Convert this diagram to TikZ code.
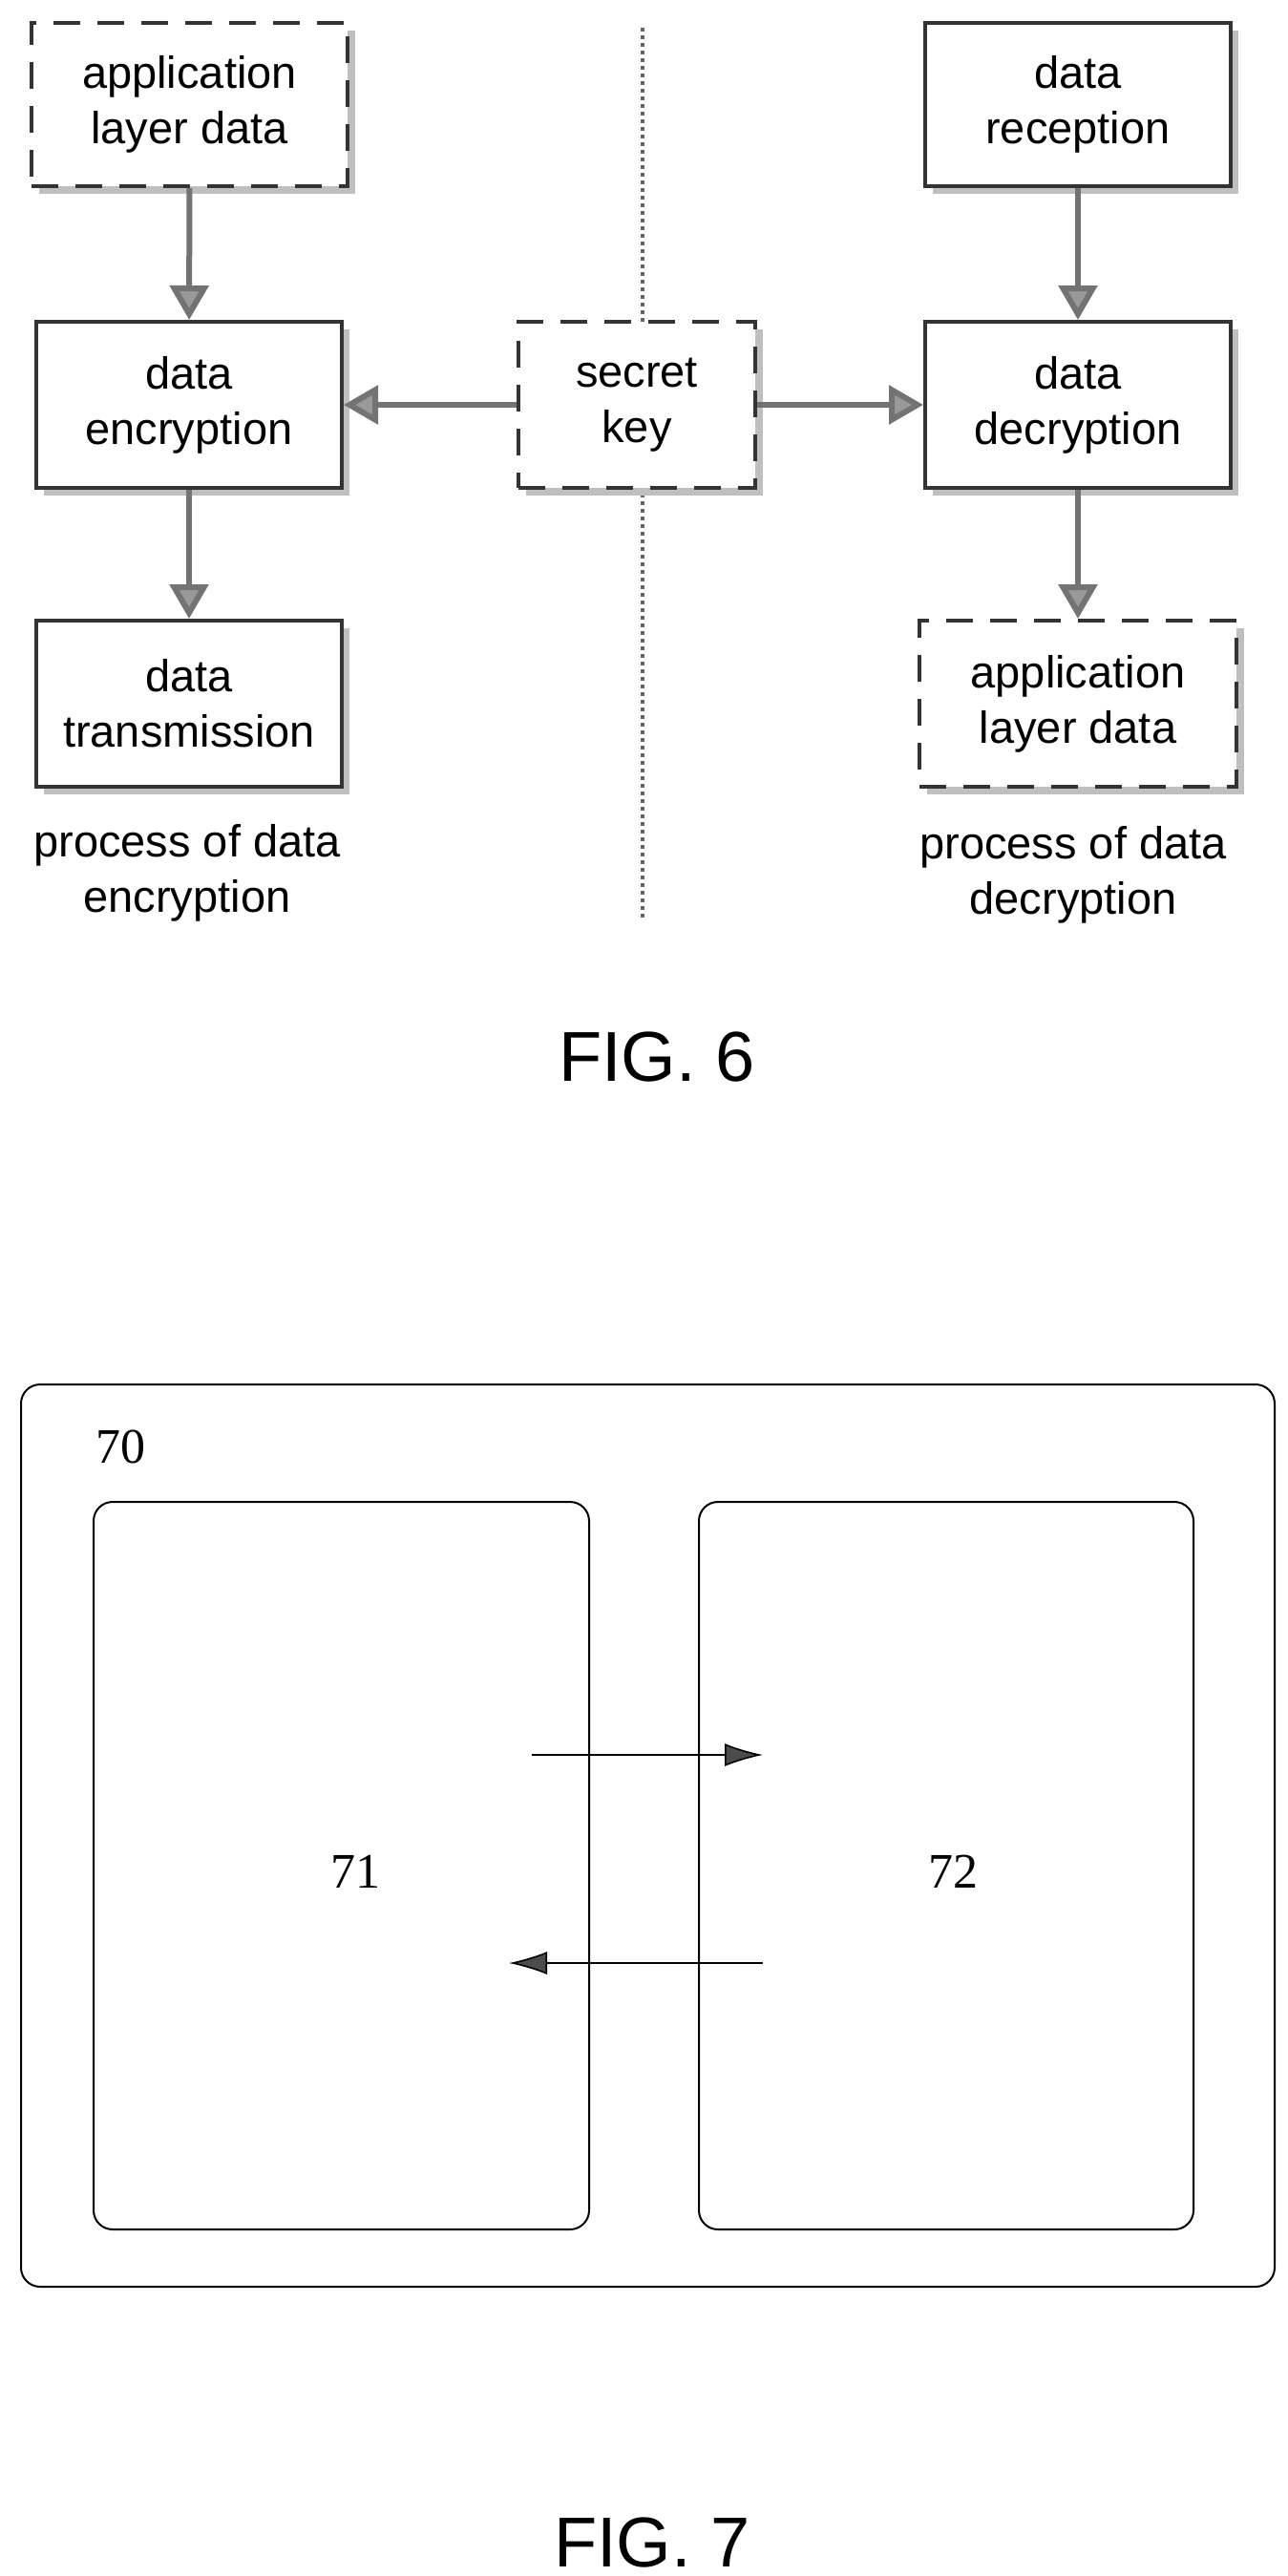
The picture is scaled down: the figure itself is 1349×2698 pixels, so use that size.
\documentclass[tikz,border=0pt]{standalone}
\usepackage{fontspec}
\setmainfont{Liberation Serif}
\setsansfont{Liberation Sans}
\usetikzlibrary{arrows.meta,shadows}
\begin{document}
\begin{tikzpicture}[x=0.5pt,y=-0.5pt,
  box/.style={draw=black!80,line width=2pt,fill=white,
    drop shadow={shadow xshift=4pt,shadow yshift=-4pt,fill=black!25,opacity=1},
    font=\sffamily\fontsize{23.5}{29}\selectfont,align=center,inner sep=0pt},
  dbox/.style={box,dash pattern=on 14pt off 9pt},
  garrow/.style={draw=black!55,line width=3pt,-{Triangle[width=20pt,length=18pt,fill=black!40]}},
  captxt/.style={font=\sffamily\fontsize{23.5}{29}\selectfont,align=center},
  fig/.style={font=\sffamily\fontsize{37}{40}\selectfont},
  rbox/.style={draw=black,line width=1pt,rounded corners=10pt},
  num/.style={font=\fontsize{26}{28}\selectfont},
  barrow/.style={draw=black,line width=0.8pt,-{Latex[length=20pt,width=12pt,fill=black!70]}}]
\useasboundingbox (0,0) rectangle (1349,2698);
\fill[white] (0,0) rectangle (1349,2698);
% FIG 6
\coordinate (lt) at (673,29); \coordinate (lb) at (673,961);
\draw[black!60,line width=2pt,dotted] (lt) -- (lb);
\node[dbox,minimum width=165.5pt,minimum height=85.5pt] (app1) at (198.5,109.5) {application\\layer data};
\node[box,minimum width=160pt,minimum height=87pt] (enc) at (198,424) {data\\encryption};
\node[box,minimum width=160pt,minimum height=87pt] (tra) at (198,737) {data\\transmission};
\node[dbox,minimum width=124pt,minimum height=87pt] (key) at (667,424) {secret\\key};
\node[box,minimum width=160pt,minimum height=85.5pt] (rec) at (1129,109.5) {data\\reception};
\node[box,minimum width=160pt,minimum height=87pt] (dec) at (1129,424) {data\\decryption};
\node[dbox,minimum width=166pt,minimum height=87pt] (app2) at (1129,737) {application\\layer data};
\draw[garrow] (app1) -- (enc);
\draw[garrow] (enc) -- (tra);
\draw[garrow] (rec) -- (dec);
\draw[garrow] (dec) -- (app2);
\draw[garrow] (key) -- (enc);
\draw[garrow] (key) -- (dec);
\node[captxt] (c1) at (196,914) {process of data\\encryption};
\node[captxt] (c2) at (1124,916) {process of data\\decryption};
\node[fig] (f6) at (688,1107) {FIG. 6};
% FIG 7
\draw[rbox] (22,1450) rectangle (1335,2395);
\node[num] (n70) at (126,1515) {70};
\draw[rbox] (98,1573) rectangle (617,2335);
\draw[rbox] (732,1573) rectangle (1250,2335);
\node[num] (n71) at (372,1960) {71};
\node[num] (n72) at (998,1960) {72};
\coordinate (a1) at (557,1838); \coordinate (a2) at (799,1838);
\coordinate (b1) at (799,2056); \coordinate (b2) at (533,2056);
\draw[barrow] (a1) -- (a2);
\draw[barrow] (b1) -- (b2);
\node[fig] (f7) at (683,2663) {FIG. 7};
\end{tikzpicture}
\end{document}
